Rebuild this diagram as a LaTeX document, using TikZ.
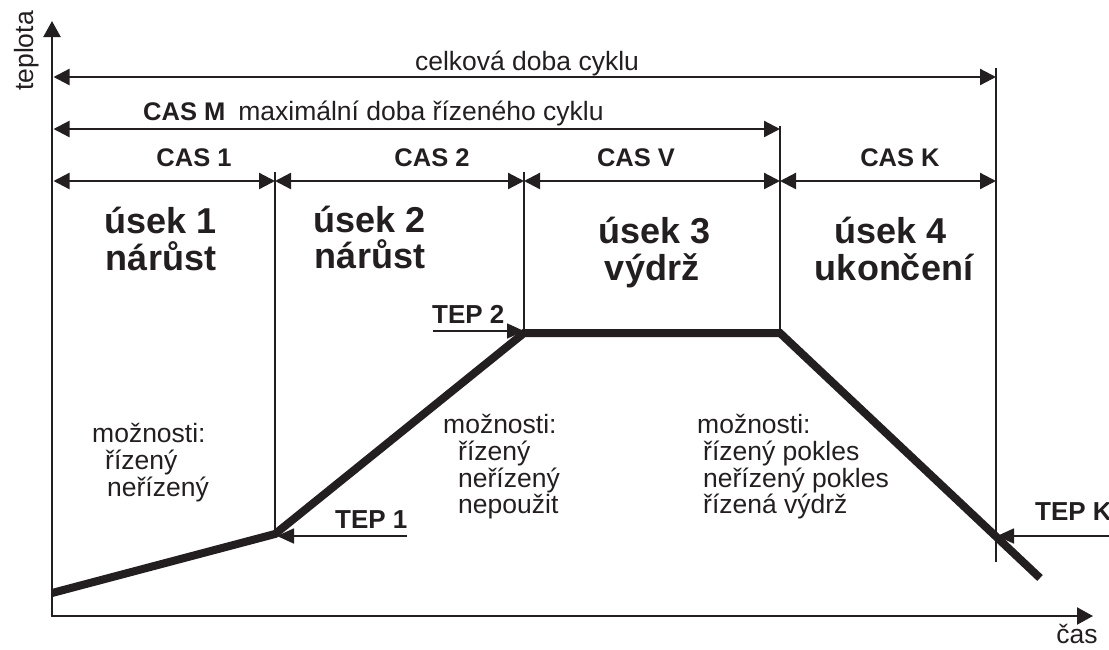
\documentclass[tikz,border=0pt]{standalone}
\usepackage{fontspec}
\setmainfont{Liberation Sans}
\usetikzlibrary{arrows.meta}
\definecolor{ink}{RGB}{35,31,32}
\begin{document}
\begin{tikzpicture}[x=1pt,y=-1pt,
  reg/.style={font=\fontsize{26.5}{32}\selectfont, text=ink, inner sep=0pt},
  tag/.style={font=\fontsize{25.5}{30}\selectfont\bfseries, text=ink, inner sep=0pt},
  big/.style={font=\fontsize{36}{37}\selectfont\bfseries, text=ink, inner sep=0pt},
  axis/.style={draw=ink, line width=2.3pt, -{Triangle[length=16pt,width=17pt]}},
  span/.style={draw=ink, line width=2.3pt, {Triangle[length=16pt,width=16pt]}-{Triangle[length=16pt,width=16pt]}},
  divider/.style={draw=ink, line width=1.3pt},
  tepline/.style={draw=ink, line width=1.7pt, -{Triangle[length=17pt,width=15pt]}},
  graph/.style={draw=ink, line width=8pt}]
\useasboundingbox (0,0) rectangle (1109,649);
% axes
\coordinate (O) at (52,616);
\coordinate (Ytop) at (52,21);
\coordinate (Xend) at (1093,616);
\draw[axis] (O) -- (Ytop);
\draw[axis] ([xshift=-1.15pt]O) -- (Xend);
\node[reg, rotate=90, anchor=base] (ylab) at (33,51) {teplota};
\node[reg, anchor=base] (xlab) at (1077,643) {čas};
% graph points
\coordinate (P0) at (52,593);
\coordinate (P1) at (275,534);
\coordinate (P2) at (524,333);
\coordinate (P3) at (780,333);
\coordinate (P4) at (1040,578);
% dividers
\coordinate (D1t) at (275,172);
\coordinate (D2t) at (524,172);
\coordinate (D2b) at (524,333);
\coordinate (D3t) at (780,126);
\coordinate (D3b) at (780,333);
\coordinate (D4t) at (996,68);
\coordinate (D4b) at (996,562);
\draw[divider] (D1t) -- (P1);
\draw[divider] (D2t) -- (D2b);
\draw[divider] (D3t) -- (D3b);
\draw[divider] (D4t) -- (D4b);
% span arrows
\coordinate (R1a) at (53.5,77);  \coordinate (R1b) at (996,77);
\coordinate (R2a) at (53.5,129); \coordinate (R2b) at (780,129);
\coordinate (R3a) at (53.5,181); \coordinate (R3b) at (275,181);
\coordinate (R3c) at (524,181);  \coordinate (R3d) at (780,181);
\coordinate (R3e) at (996,181);
\draw[span] (R1a) -- (R1b);
\draw[span] (R2a) -- (R2b);
\draw[span] (R3a) -- (R3b);
\draw[span] (R3b) -- (R3c);
\draw[span] (R3c) -- (R3d);
\draw[span] (R3d) -- (R3e);
% span labels
\node[reg, anchor=base] (celk) at (527,70) {celková doba cyklu};
\node[reg, anchor=base west] (casm) at (143,120) {{\fontsize{25.5}{30}\selectfont\bfseries CAS M}\hspace{13pt}maximální doba řízeného cyklu};
\node[tag, anchor=base] (cas1) at (194,166) {CAS 1};
\node[tag, anchor=base] (cas2) at (432,166) {CAS 2};
\node[tag, anchor=base] (casv) at (636,166) {CAS V};
\node[tag, anchor=base] (cask) at (900,166) {CAS K};
% section titles
\node[big, anchor=base] (u1a) at (161,233) {úsek 1};
\node[big, anchor=base] (u1b) at (161,270) {nárůst};
\node[big, anchor=base] (u2a) at (370,232) {úsek 2};
\node[big, anchor=base] (u2b) at (370,268) {nárůst};
\node[big, anchor=base] (u3a) at (655,243) {úsek 3};
\node[big, anchor=base] (u3b) at (652,280) {výdrž};
\node[big, anchor=base] (u4a) at (891,243) {úsek 4};
\node[big, anchor=base] (u4b) at (894,280) {ukončení};
% options
\node[reg, anchor=base west] (m1) at (92,442) {možnosti:};
\node[reg, anchor=base west] (m1a) at (105,469) {řízený};
\node[reg, anchor=base west] (m1b) at (107,496) {neřízený};
\node[reg, anchor=base west] (m2) at (443,433) {možnosti:};
\node[reg, anchor=base west] (m2a) at (458,460) {řízený};
\node[reg, anchor=base west] (m2b) at (458,487) {neřízený};
\node[reg, anchor=base west] (m2c) at (458,513) {nepoužit};
\node[reg, anchor=base west] (m3) at (697,433) {možnosti:};
\node[reg, anchor=base west] (m3a) at (703,460) {řízený pokles};
\node[reg, anchor=base west] (m3b) at (703,487) {neřízený pokles};
\node[reg, anchor=base west] (m3c) at (703,513) {řízená výdrž};
% graph
\draw[graph] (P0) -- (P1) -- (P2) -- (P3) -- (P4);
% TEP markers
\node[tag, font=\fontsize{26}{30}\selectfont\bfseries, anchor=base west] (tep1) at (335,528) {TEP 1};
\node[tag, font=\fontsize{26}{30}\selectfont\bfseries, anchor=base west] (tep2) at (432,323) {TEP 2};
\node[tag, font=\fontsize{26}{30}\selectfont\bfseries, anchor=base west] (tepk) at (1035,520) {TEP K};
\coordinate (T1s) at (407,536);  \coordinate (T1e) at (277,536);
\coordinate (T2s) at (433,331);  \coordinate (T2e) at (524,331);
\coordinate (TKs) at (1109,536); \coordinate (TKe) at (997,536);
\draw[tepline] (T1s) -- (T1e);
\draw[tepline] (T2s) -- (T2e);
\draw[tepline] (TKs) -- (TKe);
\end{tikzpicture}
\end{document}
